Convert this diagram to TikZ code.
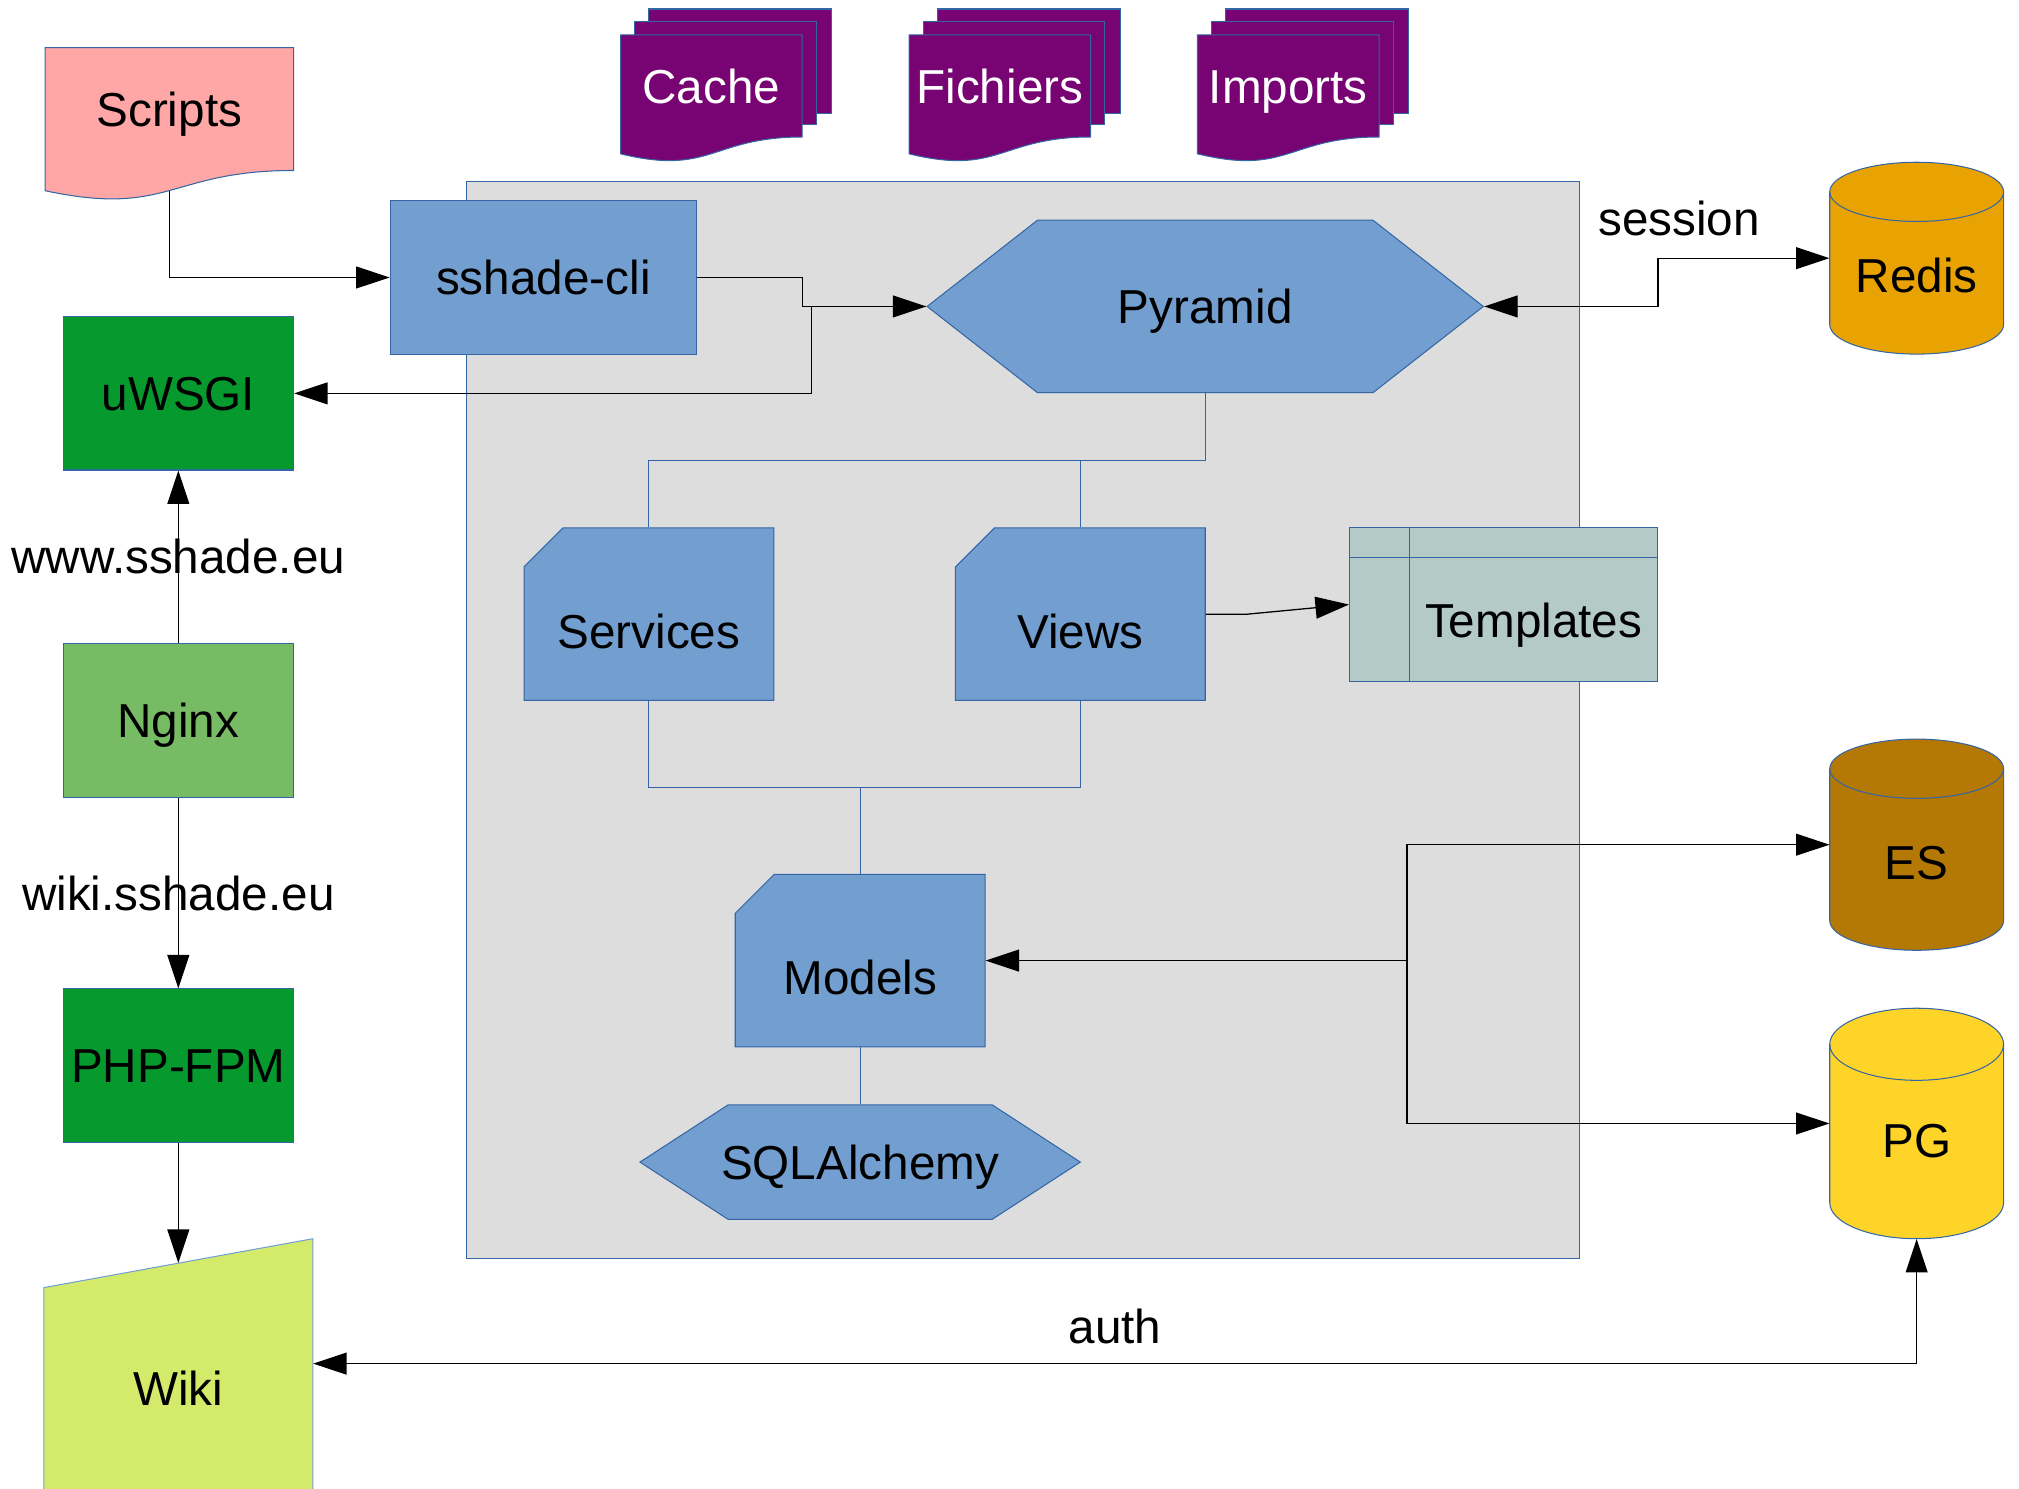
\documentclass[tikz,border=0pt]{standalone}
\usepackage{fontspec}
\setmainfont{Liberation Sans}
\usetikzlibrary{arrows.meta,shapes.symbols,shapes.misc}

\definecolor{edge}{HTML}{3465A4}
\definecolor{sky}{HTML}{729FCF}
\definecolor{framegray}{HTML}{DDDDDD}
\definecolor{salmon}{HTML}{FFA6A6}
\definecolor{plum}{HTML}{780373}
\definecolor{darkgreen}{HTML}{069A2E}
\definecolor{lightgreen}{HTML}{77BC65}
\definecolor{gold}{HTML}{E8A202}
\definecolor{darkgold}{HTML}{B47804}
\definecolor{lightgold}{HTML}{FFD428}
\definecolor{lime}{HTML}{D4EA6B}
\definecolor{tealgray}{HTML}{B3CAC7}

\begin{document}
\begin{tikzpicture}[x=1pt,y=-1pt,
  every node/.style={font=\fontsize{37}{44}\selectfont, inner sep=2pt, text height=26.5pt, text depth=0pt},
  box/.style={draw=edge, line width=0.8pt, minimum width=179, minimum height=119},
  arr/.style={line width=1pt, -{Triangle[length=26pt,width=17pt]}},
  arr2/.style={line width=1pt, {Triangle[length=26pt,width=17pt]}-{Triangle[length=26pt,width=17pt]}},
  link/.style={edge, line width=0.8pt},
  page/.style={fill=plum, draw=edge, line width=0.8pt},
  hexa/.style={signal, signal to=west and east, draw=edge, fill=sky, line width=0.8pt},
  card/.style={chamfered rectangle, chamfered rectangle corners=north west,
    chamfered rectangle xsep=38pt, chamfered rectangle ysep=26pt,
    draw=edge, fill=sky, line width=0.8pt, minimum width=194, minimum height=134, text height=52.5pt},
]
  \clip (0,0) rectangle (1568,1156);

  % backend
  \filldraw[fill=framegray, draw=edge, line width=0.8pt] (362,141) rectangle (1227,977);

  % storage
  \foreach \x/\nm/\txt in {482/cache/Cache, 706/files/Fichiers, 930/imports/Imports}{
    \filldraw[page] (\x+22,7) rectangle (\x+164,88);
    \filldraw[page] (\x+11,17) rectangle (\x+152,97);
    \filldraw[page] (\x,27) -- (\x+141,27) -- (\x+141,106.4)
      .. controls (\x+70.5,106.4) and (\x+70.5,136.6) .. (\x,119.5) -- cycle;
    \node[white, minimum width=141] (\nm) at (\x+70.5,67) {\txt};
  }

  % scripts + wiki
  \filldraw[fill=salmon, draw=edge, line width=0.8pt] (35,37) -- (228,37) -- (228,132.4)
    .. controls (131.5,132.4) and (131.5,168.8) .. (35,148.1) -- cycle;
  \node[minimum width=193, minimum height=126] (scripts) at (131.5,85) {Scripts};
  \filldraw[fill=lime, draw=sky, line width=0.8pt] (34,1000) -- (243,962) -- (243,1170) -- (34,1170) -- cycle;
  \node[minimum width=209, minimum height=156, text height=64.5pt] (wiki) at (138.5,1059) {Wiki};

  \node[box, fill=darkgreen] (uwsgi) at (138.5,305.5) {uWSGI};
  \node[box, fill=lightgreen] (nginx) at (138.5,559.5) {Nginx};
  \node[box, fill=darkgreen] (php) at (138.5,827.5) {PHP-FPM};
  \node[box, fill=sky, minimum width=238] (cli) at (422,215.5) {sshade-cli};

  % app
  \node[hexa, signal pointer angle=76, minimum width=432, minimum height=134] (pyr) at (936,238) {Pyramid};
  \node[card] (serv) at (504,477) {\makebox[0pt]{Services}};
  \node[card] (views) at (839,477) {\makebox[0pt]{Views}};
  \node[card] (models) at (668,746) {\makebox[0pt]{Models}};
  \node[hexa, signal pointer angle=66, minimum width=342, minimum height=89] (sql) at (668,902.5) {\makebox[0pt]{SQLAlchemy}};
  \node[draw=edge, fill=tealgray, line width=0.8pt, minimum width=239, minimum height=119, text height=51.5pt,
    path picture={\draw[edge, line width=0.8pt]
      ([xshift=47pt]path picture bounding box.north west) -- ([xshift=47pt]path picture bounding box.south west)
      ([yshift=-23pt]path picture bounding box.north west) -- ([yshift=-23pt]path picture bounding box.north east);}]
    (tmpl) at (1167.5,469.5) {\hspace*{47pt}Templates};

  % databases
  \foreach \nm/\col/\top/\bot/\r/\txt in {redis/gold/126/275/23/Redis, es/darkgold/574/738/23/ES, pg/lightgold/783/962/28/PG}{
    \filldraw[fill=\col, draw=edge, line width=0.8pt] (1421,\top+\r) -- (1421,\bot-\r)
      arc[start angle=180, end angle=360, x radius=67.5pt, y radius=\r pt] -- (1556,\top+\r)
      arc[start angle=0, end angle=180, x radius=67.5pt, y radius=\r pt] -- cycle;
    \draw[edge, line width=0.8pt] (1421,\top+\r) arc[start angle=180, end angle=360, x radius=67.5pt, y radius=\r pt];
    \node[minimum width=135, minimum height=\bot-\top, text height=53.5pt] (\nm) at (1488.5,{(\top+\bot)/2}) {\txt};
  }

  % links
  \draw[link] (pyr.south) -- ++(0,52) coordinate (bus1) -| (serv.north);
  \draw[link] (views.north) -- (views.north |- bus1);
  \draw[link] (serv.south) -- ++(0,67) coordinate (bus2) -| (views.south);
  \draw[link] (models.north) -- (models.north |- bus2);
  \draw[link] (models.south) -- (sql.north);

  \draw[arr] (scripts.south) |- (cli.west);
  \draw[arr] (cli.east) -- ++(82,0) |- (pyr.west);
  \draw[arr] (pyr.west) -- ++(-89,0) |- (uwsgi.east);
  \draw[arr2] (pyr.east) -- ++(135,0) |- (redis.west);
  \node (sess) at (1304,170) {session};
  \draw[arr] (views.east) -- ++(32,0) -- (tmpl.west);
  \draw[arr2] (es.west) -- ++(-328,0) coordinate (jn) |- (pg.west);
  \draw[arr] (jn |- models.east) -- (models.east);

  \draw[arr] (nginx) -- node (www) {www.sshade.eu} (uwsgi);
  \draw[arr] (nginx) -- node (wikiurl) {wiki.sshade.eu} (php);
  \draw[arr] (php) -- (wiki.north);
  \draw[arr2] (wiki.east) -| node[pos=0.25, above=13pt] (auth) {auth} (pg.south);
\end{tikzpicture}
\end{document}
